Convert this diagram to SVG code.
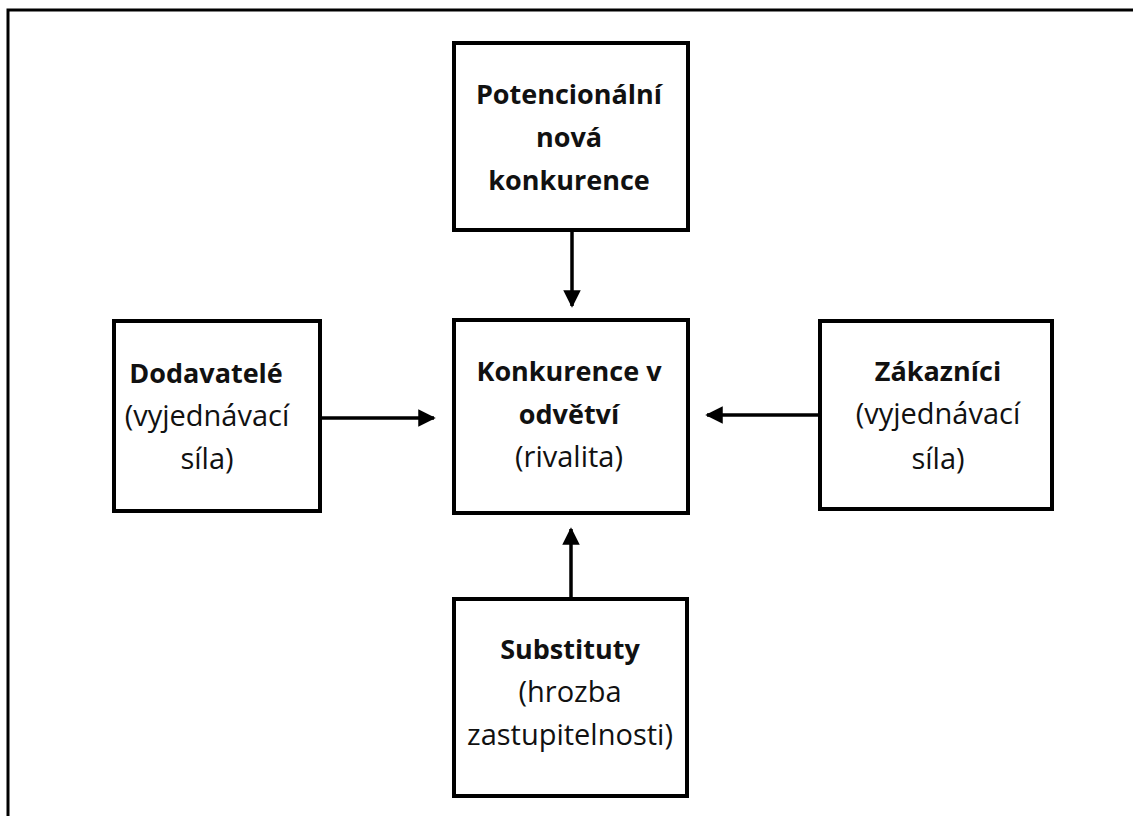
<svg xmlns="http://www.w3.org/2000/svg" width="1133" height="816" viewBox="0 0 1133 816">
<defs>
<style>
.box{fill:#fff;stroke:#000;stroke-width:4}
.frame{fill:none;stroke:#000;stroke-width:3}
.conn{stroke:#000;stroke-width:3.5;fill:none}
text{font-family:"Open Sans","Liberation Sans",sans-serif;font-size:29px;fill:#111;text-anchor:middle}
.b{font-weight:bold;font-size:27px}
</style>
<marker id="ah" markerWidth="5" markerHeight="5" refX="4.5" refY="2.5" orient="auto" markerUnits="strokeWidth">
<path d="M0,0 L5,2.5 L0,5 Z" fill="#000"/>
</marker>
</defs>
<rect width="1133" height="816" fill="#fff"/>
<path class="frame" d="M8,816 V10 H1133"/>
<g id="connectors">
<line class="conn" x1="572" y1="232" x2="572" y2="306" marker-end="url(#ah)"/>
<line class="conn" x1="322" y1="418" x2="434" y2="418" marker-end="url(#ah)"/>
<line class="conn" x1="819" y1="415" x2="707" y2="415" marker-end="url(#ah)"/>
<line class="conn" x1="571" y1="599" x2="571" y2="529" marker-end="url(#ah)"/>
</g>
<g id="n-potencialni">
<rect class="box" x="454" y="43" width="234" height="187"/>
<text class="b" x="569" y="104">Potencionální</text>
<text class="b" x="569" y="147">nová</text>
<text class="b" x="569" y="190">konkurence</text>
</g>
<g id="n-konkurence">
<rect class="box" x="454" y="320" width="234" height="193"/>
<text class="b" x="569" y="381">Konkurence v</text>
<text class="b" x="569" y="424">odvětví</text>
<text x="569" y="467">(rivalita)</text>
</g>
<g id="n-dodavatele">
<rect class="box" x="114" y="321" width="206" height="190"/>
<text class="b" x="206" y="383">Dodavatelé</text>
<text x="207" y="426">(vyjednávací</text>
<text x="207" y="469">síla)</text>
</g>
<g id="n-zakaznici">
<rect class="box" x="820" y="321" width="232" height="188"/>
<text class="b" x="938" y="381">Zákazníci</text>
<text x="938" y="424">(vyjednávací</text>
<text x="938" y="469">síla)</text>
</g>
<g id="n-substituty">
<rect class="box" x="454" y="599" width="233" height="197"/>
<text class="b" x="570" y="659">Substituty</text>
<text x="570" y="702">(hrozba</text>
<text x="570" y="745">zastupitelnosti)</text>
</g>
</svg>
